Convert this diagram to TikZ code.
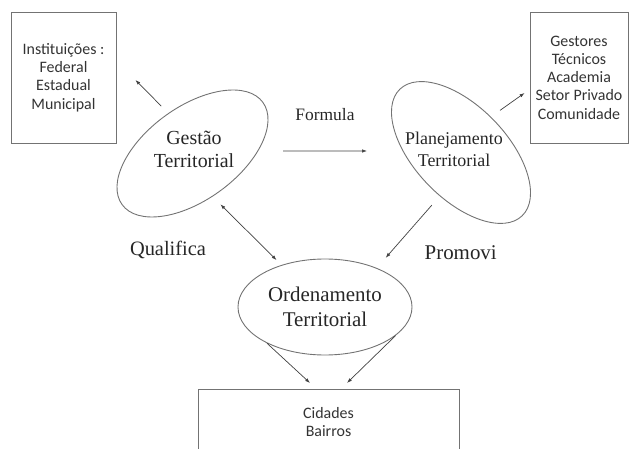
\documentclass[tikz,border=0pt]{standalone}
\usepackage{fontspec}
\setmainfont{Liberation Serif}
\newfontfamily\boxfont{Carlito}
\usetikzlibrary{arrows.meta,shapes.geometric}

\begin{document}
\begin{tikzpicture}[x=1bp,y=-1bp,
  box/.style={draw=black!55,line width=0.9pt,align=center,text=black!80,font=\boxfont\fontsize{16}{18.3}\selectfont},
  oval/.style={draw=black!55,line width=0.9pt,ellipse,inner sep=0pt,align=center,text=black!85},
  ovaltext/.style={align=center,text=black!85,inner sep=0pt},
  tag/.style={text=black!85,anchor=base,inner sep=0pt},
  arr/.style={draw=black!75,line width=0.7pt,-{Latex[length=5pt,width=3.5pt]}},
  darr/.style={draw=black!75,line width=0.7pt,{Latex[length=5pt,width=3.5pt]}-{Latex[length=5pt,width=3.5pt]}}]
\clip (0,0) rectangle (630,449);
\node[box,minimum width=105bp,minimum height=131bp] (inst) at (63.5,77.5) {Instituições :\\Federal\\Estadual\\Municipal};
\node[box,minimum width=98bp,minimum height=131bp] (actors) at (579,77.5) {Gestores\\Técnicos\\Academia\\Setor Privado\\Comunidade};
\node[box,anchor=north,minimum width=261bp,inner ysep=18bp] (cities) at (328.5,389) {Cidades\\Bairros};
\node[oval,minimum width=174bp,minimum height=93bp,rotate=36] (gestao) at (192.5,153.5) {};
\node[oval,minimum width=176bp,minimum height=92bp,rotate=-46] (planej) at (461,152.5) {};
\node[oval,minimum width=174bp,minimum height=96bp,font=\fontsize{21}{25}\selectfont] (orden) at (325,307) {Ordenamento\\Territorial};
\node[ovaltext,font=\fontsize{20}{23}\selectfont] (gestaoText) at (194,149) {Gestão\\Territorial};
\node[ovaltext,font=\fontsize{18}{22}\selectfont] (planejText) at (454,149) {Planejamento\\Territorial};
\node[tag,font=\fontsize{17.5}{20}\selectfont] (formula) at (325,121) {Formula};
\node[tag,font=\fontsize{20.5}{24}\selectfont] (qualifica) at (168,256) {Qualifica};
\node[tag,font=\fontsize{21}{24}\selectfont] (promovi) at (460.7,260) {Promovi};
\draw[arr,shorten <=10bp] (gestao.85) -- ([xshift=19bp,yshift=-2.5bp]inst.east);
\draw[arr] ([xshift=90.5bp,yshift=2.5bp]gestao.center) -- ([xshift=-94bp,yshift=1.5bp]planej.center);
\draw[arr,shorten <=11bp] (planej.96) -- ([xshift=-5bp,yshift=-15.5bp]actors.west);
\draw[darr,shorten <=11bp,shorten >=7bp] (gestao.259) -- (orden.136);
\draw[arr,shorten <=12bp,shorten >=13.5bp] (planej.290) -- (orden.37);
\draw[arr] (orden.212) -- ([xshift=-18.5bp,yshift=6bp]cities.north);
\draw[arr] (orden.338) -- ([xshift=18.5bp,yshift=6bp]cities.north);
\end{tikzpicture}
\end{document}
